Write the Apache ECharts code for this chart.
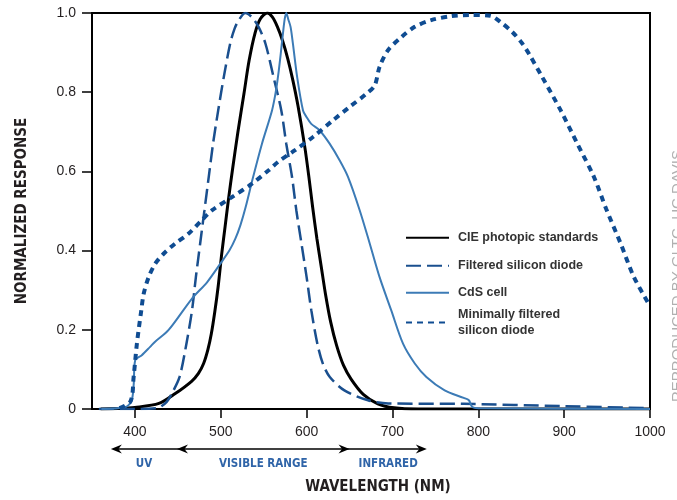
<!DOCTYPE html>
<html>
<head>
<meta charset="utf-8">
<script src="https://cdn.jsdelivr.net/npm/echarts@6/dist/echarts.min.js"></script>
<style>
  html, body { margin: 0; padding: 0; background: #fff; }
  #chart { width: 677px; height: 500px; }
</style>
</head>
<body>
<div id="chart"></div>
<script>
// values: wavelength (nm) and normalized response
const cieNm = [360, 380, 400, 428, 447, 466, 474, 480, 485, 489, 493, 497, 501, 505, 509, 514, 520, 527, 533, 540, 546, 554, 560, 566, 572, 578, 584, 590, 598, 603, 607, 612, 617, 622, 628, 635, 643, 652, 666, 683, 702, 730, 1000]
const cieVal = [0, 0.001, 0.004, 0.014, 0.039, 0.07, 0.09, 0.115, 0.15, 0.19, 0.245, 0.31, 0.39, 0.46, 0.53, 0.61, 0.7, 0.796, 0.88, 0.95, 0.985, 1.0, 0.99, 0.965, 0.93, 0.885, 0.83, 0.765, 0.66, 0.58, 0.51, 0.43, 0.36, 0.29, 0.22, 0.16, 0.11, 0.075, 0.037, 0.013, 0.003, 0, 0]

const fsdNm = [358, 400, 425, 430, 437, 443, 452, 460, 466.5, 471, 476, 481, 486, 491, 497, 503.5, 511, 516, 521, 528.6, 536, 544, 552, 561.5, 570.5, 576.3, 583, 588, 594, 600, 605.5, 612.5, 619, 627, 644, 671.5, 695, 783, 900, 1000]
const fsdVal = [0, 0, 0.002, 0.006, 0.018, 0.039, 0.081, 0.165, 0.249, 0.333, 0.418, 0.502, 0.586, 0.67, 0.754, 0.838, 0.923, 0.96, 0.982, 1.0, 0.99, 0.965, 0.923, 0.838, 0.754, 0.67, 0.586, 0.502, 0.418, 0.333, 0.249, 0.165, 0.114, 0.081, 0.047, 0.022, 0.014, 0.013, 0.007, 0.002]

const cdsNm = [361, 389, 396, 398.5, 400.3, 408, 417.7, 423.5, 439, 466.5, 484, 499.5, 510, 517, 523, 529, 537, 548, 559.7, 564, 567, 570, 572.5, 574.5, 576.3, 578.5, 581.3, 584, 589, 595.8, 600, 605.4, 615, 626.8, 638.4, 648.2, 661.8, 673.5, 685, 698.6, 712.3, 726, 739.5, 760.8, 783, 789, 793, 800, 1000]
const cdsVal = [0, 0.005, 0.02, 0.06, 0.123, 0.136, 0.157, 0.17, 0.199, 0.279, 0.32, 0.367, 0.4, 0.43, 0.465, 0.51, 0.58, 0.67, 0.754, 0.8, 0.845, 0.9, 0.95, 0.985, 1.0, 0.985, 0.965, 0.923, 0.838, 0.754, 0.737, 0.72, 0.704, 0.67, 0.628, 0.586, 0.502, 0.418, 0.333, 0.249, 0.165, 0.115, 0.081, 0.047, 0.028, 0.022, 0.005, 0.002, 0]

const mfsNm = [382, 395, 398.5, 402.3, 407.4, 410.2, 416, 423.7, 433.4, 447, 462.6, 478, 490, 513, 536.4, 555.8, 566.7, 586.1, 607.4, 630.7, 650.2, 669.6, 679.3, 685, 694.8, 710.3, 725.9, 745.2, 768.5, 790, 814, 826, 839.6, 851.2, 859, 874.5, 896, 915.3, 934.7, 949, 965.8, 981.3, 1000]
const mfsVal = [0.002, 0.02, 0.081, 0.165, 0.249, 0.291, 0.333, 0.367, 0.392, 0.418, 0.443, 0.477, 0.502, 0.535, 0.569, 0.603, 0.624, 0.653, 0.687, 0.729, 0.763, 0.796, 0.817, 0.864, 0.906, 0.939, 0.965, 0.982, 0.992, 0.995, 0.993, 0.977, 0.952, 0.923, 0.897, 0.838, 0.754, 0.67, 0.586, 0.505, 0.418, 0.333, 0.26]

const seriesNames = ['CIE photopic standards', 'Filtered silicon diode', 'CdS cell', 'Minimally filtered\nsilicon diode']
const xTicks = [400, 500, 600, 700, 800, 900, 1000]

// spectral bands under the axis: edges in nm and labels
const bandEdges = [372, 449, 650, 740]
const bandNames = ['UV', 'VISIBLE RANGE', 'INFRARED']

const pairs = (xs, ys) => xs.map((x, i) => [x, ys[i]])
const narrow = '"Liberation Sans Narrow", "DejaVu Sans Condensed", "Roboto Condensed", sans-serif'
const plain = '"Liberation Sans", Arial, sans-serif'

const chart = echarts.init(document.getElementById('chart'))

const lineSeries = (name, data, style) => ({
  name: name,
  type: 'line',
  data: data,
  showSymbol: false,
  symbol: 'none',
  smooth: 0.3,
  itemStyle: { color: style.color },
  lineStyle: style
})

// one legend block per entry, so each row sits where it does in the figure
const legendTops = [225, 253, 280, 302]
const legends = seriesNames.map((n, i) => ({
  data: [n],
  orient: 'vertical',
  left: 400,
  top: legendTops[i],
  itemWidth: 43,
  itemHeight: 14,
  itemStyle: { opacity: 0 },
  textStyle: {
    fontFamily: plain,
    fontWeight: 'bold',
    fontSize: 12.5,
    lineHeight: 15.5,
    color: '#333',
    padding: [0, 0, 0, 4]
  }
}))

const option = {
  animation: false,
  grid: {
    left: 92,
    right: 27,
    top: 13,
    bottom: 91,
    show: true,
    borderColor: '#000',
    borderWidth: 2
  },
  legend: legends,
  xAxis: {
    type: 'value',
    min: 350,
    max: 1000,
    interval: 50,
    name: 'WAVELENGTH (NM)',
    nameLocation: 'middle',
    nameGap: 71,
    nameTextStyle: {
      fontFamily: narrow,
      fontWeight: 'bold',
      fontSize: 15,
      color: '#231f20',
      padding: [0, 0, 0, 14]
    },
    axisLine: { show: true, lineStyle: { color: '#000', width: 2 } },
    axisTick: { show: true, length: 9, customValues: xTicks, lineStyle: { color: '#000', width: 1.5 } },
    axisLabel: {
      customValues: xTicks,
      margin: 16,
      fontFamily: plain,
      fontSize: 14,
      color: '#231f20',
      formatter: v => String(v)
    },
    splitLine: { show: false }
  },
  yAxis: {
    type: 'value',
    min: 0,
    max: 1,
    interval: 0.2,
    name: 'NORMALIZED RESPONSE',
    nameLocation: 'middle',
    nameGap: 62,
    nameTextStyle: {
      fontFamily: narrow,
      fontWeight: 'bold',
      fontSize: 15,
      color: '#231f20'
    },
    axisLine: { show: true, lineStyle: { color: '#000', width: 2 } },
    axisTick: { show: true, length: 10, lineStyle: { color: '#000', width: 1.5 } },
    axisLabel: {
      margin: 16,
      fontFamily: plain,
      fontSize: 14,
      color: '#231f20',
      formatter: v => (v === 0 ? '0' : v.toFixed(1))
    },
    splitLine: { show: false }
  },
  series: [
    lineSeries(seriesNames[0], pairs(cieNm, cieVal), { color: '#000', width: 3 }),
    lineSeries(seriesNames[1], pairs(fsdNm, fsdVal), { color: '#1a4f8e', width: 2.5, type: [15, 6], cap: 'butt' }),
    lineSeries(seriesNames[2], pairs(cdsNm, cdsVal), { color: '#3c7bb6', width: 2 }),
    lineSeries(seriesNames[3], pairs(mfsNm, mfsVal), { color: '#0f4c92', width: 4, type: [6, 5], cap: 'butt' })
  ]
}

chart.setOption(option)

// arrows and band names under the axis, placed through the x axis scale
const px = v => chart.convertToPixel({ xAxisIndex: 0 }, v)
const arrowY = 449
const head = (tipX, dir) => ({
  type: 'polygon',
  shape: {
    points: [[tipX, arrowY], [tipX + dir * 11, arrowY - 4.5], [tipX + dir * 7.5, arrowY], [tipX + dir * 11, arrowY + 4.5]]
  },
  style: { fill: '#000' }
})
const graphics = [
  {
    type: 'line',
    shape: { x1: px(bandEdges[0]) + 4, y1: arrowY, x2: px(bandEdges[3]) - 4, y2: arrowY },
    style: { stroke: '#000', lineWidth: 1.5 }
  },
  head(px(bandEdges[0]), 1),
  head(px(bandEdges[1]), 1),
  head(px(bandEdges[2]), -1),
  head(px(bandEdges[3]), -1)
]
bandNames.forEach((name, i) => {
  graphics.push({
    type: 'text',
    x: (px(bandEdges[i]) + px(bandEdges[i + 1])) / 2,
    y: 464,
    style: {
      text: name,
      fill: '#2f64a8',
      font: 'bold 11.5px ' + narrow,
      align: 'center',
      verticalAlign: 'middle'
    }
  })
})
graphics.push({
  type: 'text',
  x: 678,
  y: 276,
  rotation: Math.PI / 2,
  style: {
    text: 'REPRODUCED BY GLTC, UC DAVIS',
    fill: '#b0b0b0',
    font: '15px ' + plain,
    align: 'center',
    verticalAlign: 'middle'
  }
})
chart.setOption({ graphic: graphics })
</script>
</body>
</html>
